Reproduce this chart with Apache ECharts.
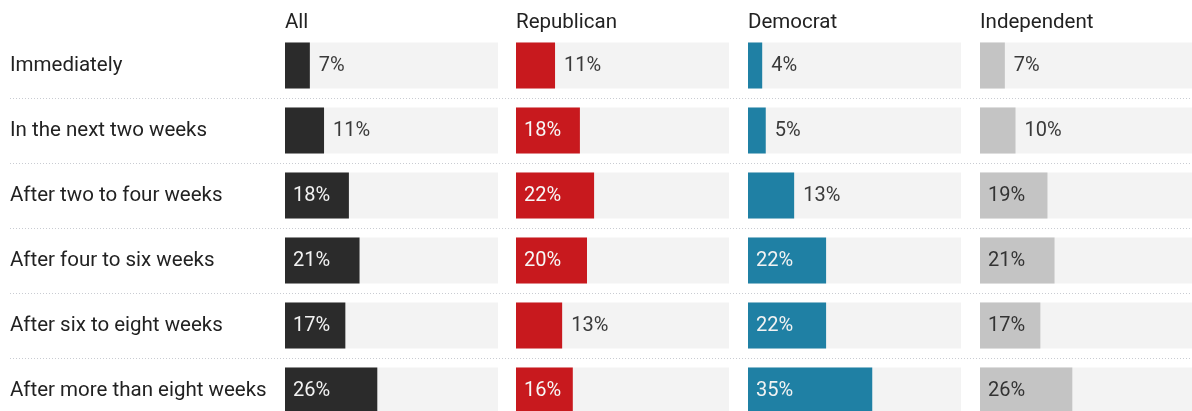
<!DOCTYPE html>
<html>
<head>
<meta charset="utf-8">
<script src="https://cdn.jsdelivr.net/npm/echarts@6/dist/echarts.min.js"></script>
<style>html,body{margin:0;padding:0;background:#fff}#c{width:1192px;height:411px}</style>
</head>
<body>
<div id="c"></div>
<script>
const categories = ['Immediately','In the next two weeks','After two to four weeks','After four to six weeks','After six to eight weeks','After more than eight weeks'];
const groups = ['All','Republican','Democrat','Independent'];
const allValues = [7, 11, 18, 21, 17, 26];
const republicanValues = [11, 18, 22, 20, 13, 16];
const democratValues = [4, 5, 13, 22, 22, 35];
const independentValues = [7, 10, 19, 21, 17, 26];
const seriesValues = [allValues, republicanValues, democratValues, independentValues];

const colors = ['#2b2b2b', '#c8191e', '#1f80a4', '#c4c4c4'];
const insideText = ['#f2f2f2', '#f7f7f7', '#f2f2f2', '#333333'];
const FONT = 'Roboto';
const panelLeft = [285, 516, 748, 980];
const panelW = 213;
const gridTop = 33, gridHeight = 390;

const chart = echarts.init(document.getElementById('c'));
const grid = [], xAxis = [], yAxis = [], series = [], title = [];

// separator grid
grid.push({left: 10, right: 0, top: gridTop, height: gridHeight, outerBoundsMode: 'none', containLabel: false});
xAxis.push({gridIndex: 0, type: 'value', show: false});
yAxis.push({gridIndex: 0, type: 'category', inverse: true, data: categories,
  axisLine: {show: false}, axisTick: {show: false}, axisLabel: {show: false},
  splitLine: {show: true, showMinLine: false, showMaxLine: false, interval: 0,
    lineStyle: {type: [1, 2], color: '#c9ccd2', width: 1}}});

groups.forEach((g, i) => {
  const gi = i + 1;
  grid.push({left: panelLeft[i], width: panelW, top: gridTop, height: gridHeight, outerBoundsMode: 'none', containLabel: false});
  xAxis.push({gridIndex: gi, type: 'value', min: 0, max: 60, show: false});
  yAxis.push({gridIndex: gi, type: 'category', inverse: true, data: categories,
    axisLine: {show: false}, axisTick: {show: false}, splitLine: {show: false},
    axisLabel: i === 0 ? {show: true, align: 'left', margin: panelLeft[0] - 10,
      fontFamily: FONT, fontSize: 20.5, color: '#222'} : {show: false}});
  title.push({text: g, left: panelLeft[i], top: 12, padding: 0,
    textStyle: {fontFamily: FONT, fontSize: 20.5, fontWeight: 'normal', color: '#222'}});
  series.push({
    type: 'bar', xAxisIndex: gi, yAxisIndex: gi, barWidth: 46,
    itemStyle: {color: colors[i]},
    showBackground: true, backgroundStyle: {color: '#f3f3f3'},
    data: seriesValues[i].map(v => ({
      value: v,
      label: v >= 16
        ? {show: true, position: 'insideLeft', distance: 8, color: insideText[i]}
        : {show: true, position: 'right', distance: 9, color: '#3a3a3a'}
    })),
    label: {fontFamily: FONT, fontSize: 20, formatter: p => p.value + '%'},
    animation: false
  });
});

chart.setOption({animation: false, title, grid, xAxis, yAxis, series});
</script>
</body>
</html>
